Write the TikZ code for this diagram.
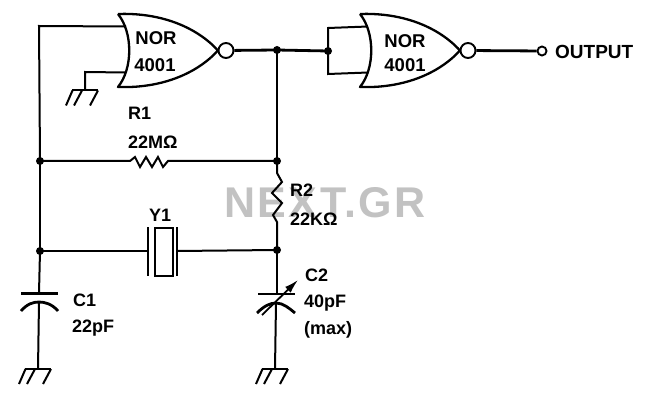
\documentclass[tikz,border=0pt]{standalone}
\usepackage{fontspec}
\setmainfont{Liberation Sans}
\newfontfamily\labfont{Liberation Sans Bold}
\newfontfamily\wmfont[LetterSpace=6]{Liberation Sans Bold}
\usetikzlibrary{arrows.meta}
\tikzset{
  wire/.style={line width=2pt},
  heavy/.style={line width=2.8pt},
  dotn/.style={circle,fill=black,inner sep=0pt,minimum size=8pt},
  ringn/.style={circle,draw=black,fill=white,line width=1.9pt,inner sep=0pt},
  lab/.style={inner sep=0pt,anchor=west,font=\labfont\fontsize{18}{18}\selectfont},
  glab/.style={inner sep=0pt,font=\labfont\fontsize{18.5}{18}\selectfont},
  norgate/.pic={
    \draw[line width=2.3pt,line join=round] (0,-36.5) .. controls (42,-38) and (78,-24) .. (100,0)
      .. controls (78,24) and (42,38) .. (0,36.5)
      .. controls (15,18) and (15,-18) .. (0,-36.5);
    \node[ringn,minimum size=15pt] (-bub) at (108,0) {};
    \coordinate (-in1) at (8,-24);
    \coordinate (-in2) at (8,22);
  },
  gndsym/.pic={
    \draw[wire] (-13,0) -- (13,0);
    \draw[wire] (-3,0) -- (-11,15) (-12.5,0) -- (-19,15) (13,0) -- (5,15);
    \coordinate (-top) at (0,0);
  }
}
\begin{document}
\begin{tikzpicture}[x=1pt,y=-1pt]
\useasboundingbox (0,0) rectangle (650,406);
% watermark
\node[inner sep=0pt,text=black!24] (wm) at (325,203) {\wmfont\fontsize{43}{43}\selectfont NEXT.GR};

% gates
\pic (g1) at (118,50.5) {norgate};
\pic (g2) at (360,50.5) {norgate};
\node[glab] (n1) at (156,38.5) {NOR};
\node[glab] (n1b) at (155,65) {4001};
\node[glab] (n2) at (405,41) {NOR};
\node[glab] (n2b) at (405,65) {4001};

% junctions
\node[dotn] (j1) at (277,50) {};
\node[dotn] (j2) at (328,51) {};
\node[dotn] (j3) at (277,161) {};
\node[dotn] (j4) at (40,161) {};
\node[dotn] (j5) at (40,251) {};
\node[dotn] (j6) at (277,250) {};
\node[ringn,minimum size=9pt] (out) at (542,51) {};
\node[lab,font=\labfont\fontsize{19}{19}\selectfont] (outl) at (555,52) {OUTPUT};

% corners
\coordinate (c1) at (39,26);
\coordinate (c2) at (85,72);
\coordinate (c3) at (328,28);
\coordinate (c4) at (328,74);

% grounds
\pic (g3) at (85,90.5) {gndsym};
\pic (g4) at (38,369) {gndsym};
\pic (g5) at (275,369) {gndsym};

% gate wiring
\draw[wire] (g1-in1) -- (c1) -- (j4.center);
\draw[wire] (j4.center) -- (j5.center);
\draw[wire] (g1-in2) -- (c2) -- (g3-top);
\draw[heavy] (g1-bub) -- (j1.center) -- (j2.center);
\draw[wire] (g2-in1) -- (c3) -- (c4) -- (g2-in2);
\draw[heavy] (g2-bub) -- (out);
\draw[wire] (j1.center) -- (j3.center);

% R1
\coordinate (r1a) at (130,161);
\coordinate (r1b) at (168,161);
\draw[wire] (j4.center) -- (r1a) -- (135,157) -- (140,167) -- (146,157) -- (152,167) -- (158,157) -- (163,167) -- (r1b) -- (j3.center);
\node[lab] (r1l) at (128,113) {R1};
\node[lab] (r1v) at (128,142) {22MΩ};

% R2
\coordinate (r2a) at (277,173);
\coordinate (r2b) at (277,222);
\draw[wire] (j3.center) -- (r2a) -- (282,182) -- (272,193) -- (282,203) -- (273,215) -- (r2b) -- (j6.center);
\node[lab] (r2l) at (290,190) {R2};
\node[lab] (r2v) at (290,219) {22KΩ};

% crystal
\node[draw,line width=2pt,inner sep=0pt,minimum width=18pt,minimum height=48pt] (xt) at (164,251.5) {};
\coordinate (pl1a) at (148,227);
\coordinate (pl1b) at (148,276);
\coordinate (pl2a) at (177,227);
\coordinate (pl2b) at (177,276);
\coordinate (xl) at (148,251);
\coordinate (xr) at (177,251);
\draw[wire] (pl1a) -- (pl1b);
\draw[wire] (pl2a) -- (pl2b);
\draw[wire] (j5.center) -- (xl);
\draw[wire] (xr) -- (j6.center);
\node[lab] (y1) at (149,215) {Y1};

% C1
\coordinate (c1p) at (39,293);
\coordinate (c1q) at (39,302);
\draw[wire] (j5.center) -- (c1p);
\draw[heavy] (21,293.5) -- (58,293.5);
\draw[heavy] (21,311) .. controls (27,304) and (33,302) .. (c1q) .. controls (45,302) and (52,304) .. (58,311);
\draw[wire] (c1q) -- (g4-top);
\node[lab] (c1l) at (73,300) {C1};
\node[lab] (c1v) at (72,328) {22pF};

% C2
\coordinate (c2p) at (277,294);
\coordinate (c2q) at (276,303);
\draw[wire] (j6.center) -- (c2p);
\draw[heavy] (258,294) -- (295,294);
\draw[heavy] (257,313) .. controls (264,306) and (270,303) .. (c2q) .. controls (283,303) and (289,308) .. (295,313);
\draw[wire] (c2q) -- (g5-top);
\draw[line width=1.8pt,-{Latex[length=14pt,width=8pt]}] (262,315) -- (298,280);
\node[lab] (c2l) at (305,275) {C2};
\node[lab] (c2v) at (304,303) {40pF};
\node[lab] (c2m) at (304,330) {(max)};
\end{tikzpicture}
\end{document}
